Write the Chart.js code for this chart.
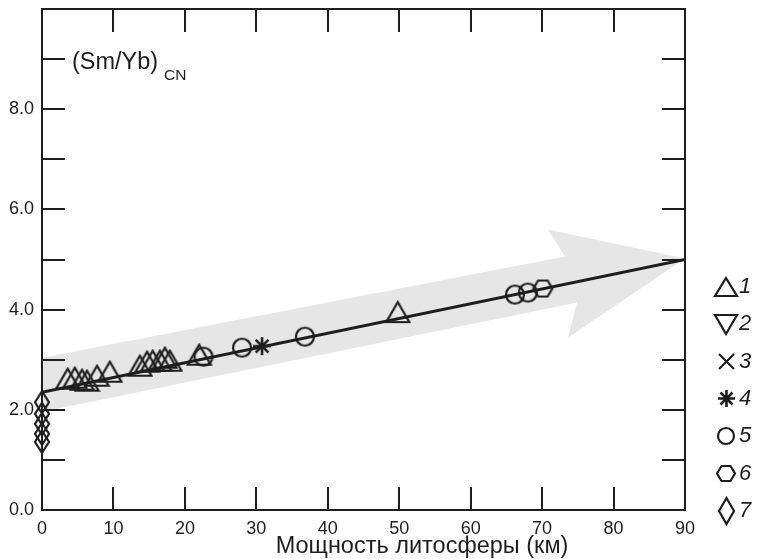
<!DOCTYPE html>
<html lang="ru">
  <head>
    <meta charset="UTF-8" />
    <title>(Sm/Yb)CN — мощность литосферы</title>
    <script src="https://cdn.jsdelivr.net/npm/chart.js"></script>
    <style>
      body { margin: 0; background: #fff; }
      canvas { display: block; }
    </style>
  </head>
  <body>
    <canvas id="chart" width="760" height="559"></canvas>
    <script>
      // данные
      const seriesNames = ["1", "2", "3", "4", "5", "6", "7"];

      const triX = [3.6, 4.6, 5.6, 6.3, 7.7, 9.5, 13.7, 14.7, 15.5, 16.5, 17.2, 17.9, 22.0, 49.8];
      const triY = [2.62, 2.64, 2.6, 2.58, 2.68, 2.76, 2.88, 2.96, 2.98, 2.98, 3.04, 2.98, 3.1, 3.95];
      const invTriX = [];
      const invTriY = [];
      const crossX = [];
      const crossY = [];
      const starX = [30.8];
      const starY = [3.27];
      const circX = [22.6, 28.0, 36.8, 66.2, 68.0];
      const circY = [3.06, 3.24, 3.46, 4.3, 4.34];
      const hexX = [70.1];
      const hexY = [4.42];
      const diaX = [0, 0, 0, 0, 0];
      const diaY = [2.15, 1.92, 1.72, 1.52, 1.36];

      // линия тренда
      const trendX = [0, 90];
      const trendY = [2.35, 5.0];

      // серая стрелка (контур)
      const arrowX = [0, 73.2, 70.8, 90, 73.6, 74.9, 0, 0];
      const arrowY = [3.04, 5.06, 5.6, 5.02, 3.44, 4.14, 1.96, 3.04];

      const xTicks = [10, 20, 30, 40, 50, 60, 70, 80];
      const yTicks = [1, 2, 3, 4, 5, 6, 7, 8, 9];

      const FONT = "'Liberation Sans', Arial, sans-serif";
      const INK = "#1e1e1e";

      function pts(xs, ys) {
        return xs.map((x, i) => ({ x: x, y: ys[i] }));
      }

      // значки серий
      function marker(kind, w, h) {
        const c = document.createElement("canvas");
        c.width = w + 4;
        c.height = h + 4;
        const g = c.getContext("2d");
        g.strokeStyle = INK;
        g.lineWidth = 2.2;
        const cx = c.width / 2, cy = c.height / 2, rx = w / 2, ry = h / 2;
        g.beginPath();
        if (kind === "tri") {
          g.moveTo(cx, cy - ry); g.lineTo(cx + rx, cy + ry); g.lineTo(cx - rx, cy + ry); g.closePath();
        } else if (kind === "itri") {
          g.moveTo(cx, cy + ry); g.lineTo(cx + rx, cy - ry); g.lineTo(cx - rx, cy - ry); g.closePath();
        } else if (kind === "cross") {
          g.moveTo(cx - rx, cy - ry); g.lineTo(cx + rx, cy + ry);
          g.moveTo(cx + rx, cy - ry); g.lineTo(cx - rx, cy + ry);
        } else if (kind === "star") {
          g.lineWidth = 2.6;
          for (let k = 0; k < 4; k++) {
            const a = (k * Math.PI) / 4;
            g.moveTo(cx + rx * Math.sin(a), cy - ry * Math.cos(a));
            g.lineTo(cx - rx * Math.sin(a), cy + ry * Math.cos(a));
          }
        } else if (kind === "circle") {
          g.ellipse(cx, cy, rx, ry, 0, 0, Math.PI * 2);
        } else if (kind === "hex") {
          g.moveTo(cx - rx, cy); g.lineTo(cx - rx / 2, cy - ry); g.lineTo(cx + rx / 2, cy - ry);
          g.lineTo(cx + rx, cy); g.lineTo(cx + rx / 2, cy + ry); g.lineTo(cx - rx / 2, cy + ry); g.closePath();
        } else if (kind === "dia") {
          g.moveTo(cx, cy - ry); g.lineTo(cx + rx, cy); g.lineTo(cx, cy + ry); g.lineTo(cx - rx, cy); g.closePath();
        }
        g.stroke();
        return c;
      }

      const icons = [
        marker("tri", 23, 20),
        marker("itri", 23, 20),
        marker("cross", 16, 16),
        marker("star", 18, 18),
        marker("circle", 18, 18),
        marker("hex", 19, 16),
        marker("dia", 14, 22),
      ];
      const legendIcons = [
        marker("tri", 22, 18),
        marker("itri", 22, 19),
        marker("cross", 15, 15),
        marker("star", 17, 17),
        marker("circle", 16, 16),
        marker("hex", 18, 15),
        marker("dia", 15, 26),
      ];

      const seriesData = [
        pts(triX, triY), pts(invTriX, invTriY), pts(crossX, crossY), pts(starX, starY),
        pts(circX, circY), pts(hexX, hexY), pts(diaX, diaY),
      ];

      const datasets = [
        {
          label: "arrow",
          data: pts(arrowX, arrowY),
          showLine: true,
          fill: "shape",
          backgroundColor: "#e6e6e6",
          borderColor: "rgba(0,0,0,0)",
          borderWidth: 0,
          pointRadius: 0,
          tension: 0,
          order: 10,
        },
        {
          label: "trend",
          data: pts(trendX, trendY),
          showLine: true,
          borderColor: INK,
          borderWidth: 3,
          pointRadius: 0,
          fill: false,
          order: 5,
        },
      ];
      seriesNames.forEach((name, i) => {
        datasets.push({
          label: name,
          data: seriesData[i],
          pointStyle: icons[i],
          pointRadius: 8,
          showLine: false,
          clip: false,
          order: 0,
        });
      });

      // рамка, внутренние штрихи и подписи
      const decor = {
        id: "decor",
        afterDatasetsDraw(chart) {
          const { ctx, chartArea: a, scales } = chart;
          ctx.save();
          ctx.strokeStyle = INK;
          ctx.lineWidth = 2;
          ctx.strokeRect(a.left, a.top, a.right - a.left, a.bottom - a.top);
          ctx.beginPath();
          xTicks.forEach((v) => {
            const px = Math.round(scales.x.getPixelForValue(v));
            ctx.moveTo(px, a.bottom); ctx.lineTo(px, a.bottom - 23);
            ctx.moveTo(px, a.top); ctx.lineTo(px, a.top + 23);
          });
          yTicks.forEach((v) => {
            const py = Math.round(scales.y.getPixelForValue(v));
            ctx.moveTo(a.left, py); ctx.lineTo(a.left + 23, py);
            ctx.moveTo(a.right, py); ctx.lineTo(a.right - 23, py);
          });
          ctx.stroke();

          ctx.fillStyle = INK;
          ctx.textBaseline = "middle";
          ctx.textAlign = "left";
          ctx.font = "23.5px " + FONT;
          ctx.fillText("(Sm/Yb)", a.left + 30, a.top + 54);
          ctx.font = "15.5px " + FONT;
          ctx.fillText("CN", a.left + 122, a.top + 67);

          ctx.font = "23.5px " + FONT;
          ctx.textAlign = "center";
          ctx.fillText("Мощность литосферы (км)", 422, 547);

          // легенда
          ctx.textAlign = "left";
          ctx.font = "italic 22px " + FONT;
          seriesNames.forEach((name, i) => {
            const y = 287 + i * 37.3;
            const ic = legendIcons[i];
            ctx.drawImage(ic, Math.round(726 - ic.width / 2), Math.round(y - ic.height / 2));
            ctx.fillText(name, 739, y);
          });
          ctx.restore();
        },
      };

      new Chart(document.getElementById("chart"), {
        type: "scatter",
        data: { datasets: datasets },
        options: {
          responsive: false,
          animation: false,
          devicePixelRatio: 1,
          layout: { padding: { top: 9, right: 75, left: 0, bottom: 0 } },
          plugins: { legend: { display: false }, tooltip: { enabled: false } },
          scales: {
            x: {
              type: "linear",
              min: 0,
              max: 90,
              grid: { display: false },
              border: { display: false },
              ticks: { stepSize: 10, padding: 0, color: INK, font: { family: FONT, size: 18 }, maxRotation: 0 },
              afterFit(s) {
                s.height = 49;
                s.paddingLeft = 0;
                s.paddingRight = 0;
              },
            },
            y: {
              min: 0,
              max: 10,
              grid: { display: false, tickLength: 0 },
              border: { display: false },
              ticks: {
                stepSize: 1,
                padding: 8,
                color: INK,
                font: { family: FONT, size: 18 },
                callback: (v) => (v % 2 === 0 && v < 10 ? v.toFixed(1) : ""),
              },
              afterFit(s) {
                s.width = 42;
                s.paddingTop = 0;
                s.paddingBottom = 0;
              },
            },
          },
        },
        plugins: [decor],
      });
    </script>
  </body>
</html>
